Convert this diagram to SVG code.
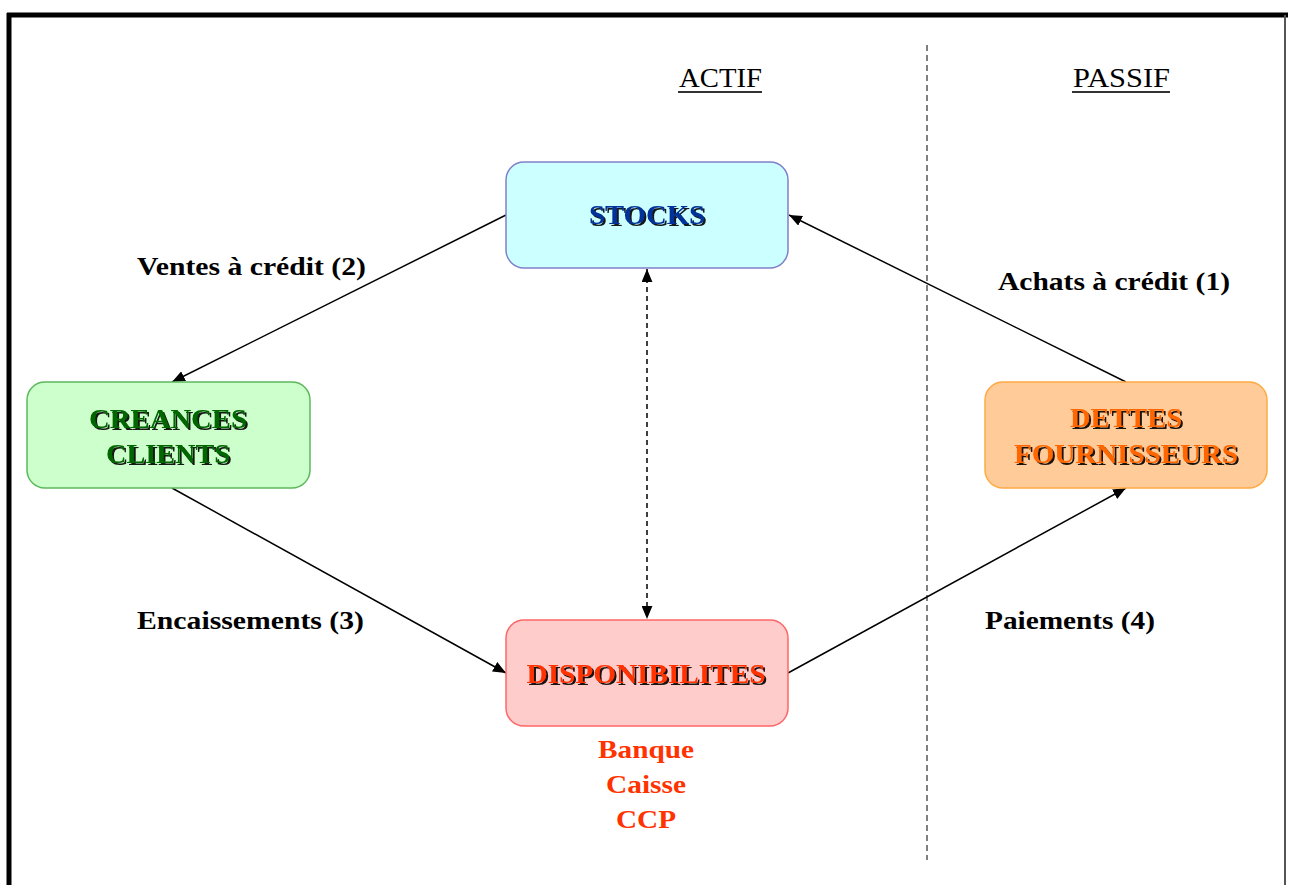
<svg xmlns="http://www.w3.org/2000/svg" width="1290" height="885" viewBox="0 0 1290 885">
<defs>
<marker id="ah" viewBox="0 0 12 10" markerWidth="13" markerHeight="11" refX="12" refY="5" orient="auto-start-reverse" markerUnits="userSpaceOnUse">
<path d="M0,0 L12,5 L0,10 z" fill="#000"/>
</marker>
<filter id="sh" x="-10%" y="-30%" width="130%" height="160%">
<feDropShadow dx="2" dy="2" stdDeviation="0.6" flood-color="#000" flood-opacity="0.9"/>
</filter>
</defs>
<style>
.box{stroke-width:1.5}
.bt{font-family:"Liberation Serif","Times New Roman",serif;font-weight:bold;font-size:28px;text-anchor:middle}
.lbl{font-family:"Liberation Serif","Times New Roman",serif;font-weight:bold;font-size:25px;fill:#000}
.hd{font-family:"Liberation Serif","Times New Roman",serif;font-size:28px;fill:#000}
.sub{font-family:"Liberation Serif","Times New Roman",serif;font-weight:bold;font-size:26px;fill:#FF3300;text-anchor:middle}
.ln{stroke:#000;stroke-width:1.5;fill:none;marker-end:url(#ah)}
</style>
<rect width="1290" height="885" fill="#fff"/>
<g id="frame">
<line x1="7" y1="15" x2="1288" y2="15" stroke="#000" stroke-width="5"/>
<line x1="9" y1="13" x2="9" y2="885" stroke="#000" stroke-width="5"/>
<line x1="1285" y1="15" x2="1285" y2="885" stroke="#555" stroke-width="2"/>
<line x1="927" y1="45" x2="927" y2="860" stroke="#555" stroke-width="1.5" stroke-dasharray="6,4"/>
</g>
<g id="headers">
<text class="hd" x="679" y="87" textLength="83" lengthAdjust="spacingAndGlyphs">ACTIF</text>
<line x1="678" y1="92" x2="762" y2="92" stroke="#333" stroke-width="2"/>
<text class="hd" x="1073" y="87" textLength="97" lengthAdjust="spacingAndGlyphs">PASSIF</text>
<line x1="1072" y1="92" x2="1170" y2="92" stroke="#333" stroke-width="2"/>
</g>
<g id="connectors">
<line class="ln" x1="506" y1="215" x2="172" y2="382"/>
<line class="ln" x1="172" y1="488" x2="506" y2="673"/>
<line class="ln" x1="788" y1="673" x2="1126" y2="488"/>
<line class="ln" x1="1126" y1="382" x2="789" y2="215"/>
<line x1="647" y1="269" x2="647" y2="619" stroke="#000" stroke-width="1.5" stroke-dasharray="5,4" marker-start="url(#ah)" marker-end="url(#ah)"/>
</g>
<g id="labels">
<text class="lbl" x="137" y="275" textLength="229" lengthAdjust="spacingAndGlyphs">Ventes à crédit (2)</text>
<text class="lbl" x="998" y="290" textLength="232" lengthAdjust="spacingAndGlyphs">Achats à crédit (1)</text>
<text class="lbl" x="137" y="629" textLength="227" lengthAdjust="spacingAndGlyphs">Encaissements (3)</text>
<text class="lbl" x="985" y="629" textLength="170" lengthAdjust="spacingAndGlyphs">Paiements (4)</text>
</g>
<g id="stocks">
<rect class="box" x="506" y="162" width="282" height="106" rx="18" fill="#CCFFFF" stroke="#8080C8"/>
<text class="bt" x="647" y="224" fill="#003399" filter="url(#sh)" textLength="116" lengthAdjust="spacingAndGlyphs">STOCKS</text>
</g>
<g id="creances">
<rect class="box" x="27" y="382" width="283" height="106" rx="18" fill="#CCFFCC" stroke="#5CB85C"/>
<text class="bt" x="168" y="428" fill="#006600" filter="url(#sh)" textLength="158" lengthAdjust="spacingAndGlyphs">CREANCES</text>
<text class="bt" x="168" y="463" fill="#006600" filter="url(#sh)" textLength="124" lengthAdjust="spacingAndGlyphs">CLIENTS</text>
</g>
<g id="dettes">
<rect class="box" x="985" y="382" width="282" height="106" rx="18" fill="#FFCC99" stroke="#FFAA44"/>
<text class="bt" x="1126" y="427" fill="#FF6600" filter="url(#sh)" textLength="112" lengthAdjust="spacingAndGlyphs">DETTES</text>
<text class="bt" x="1126" y="463" fill="#FF6600" filter="url(#sh)" textLength="224" lengthAdjust="spacingAndGlyphs">FOURNISSEURS</text>
</g>
<g id="disponibilites">
<rect class="box" x="506" y="620" width="282" height="106" rx="18" fill="#FFCCCC" stroke="#FF6666"/>
<text class="bt" x="646" y="683" fill="#FF3300" filter="url(#sh)" textLength="239" lengthAdjust="spacingAndGlyphs">DISPONIBILITES</text>
<text class="sub" x="646" y="758" textLength="96" lengthAdjust="spacingAndGlyphs">Banque</text>
<text class="sub" x="646" y="793" textLength="80" lengthAdjust="spacingAndGlyphs">Caisse</text>
<text class="sub" x="646" y="828" textLength="60" lengthAdjust="spacingAndGlyphs">CCP</text>
</g>
</svg>
